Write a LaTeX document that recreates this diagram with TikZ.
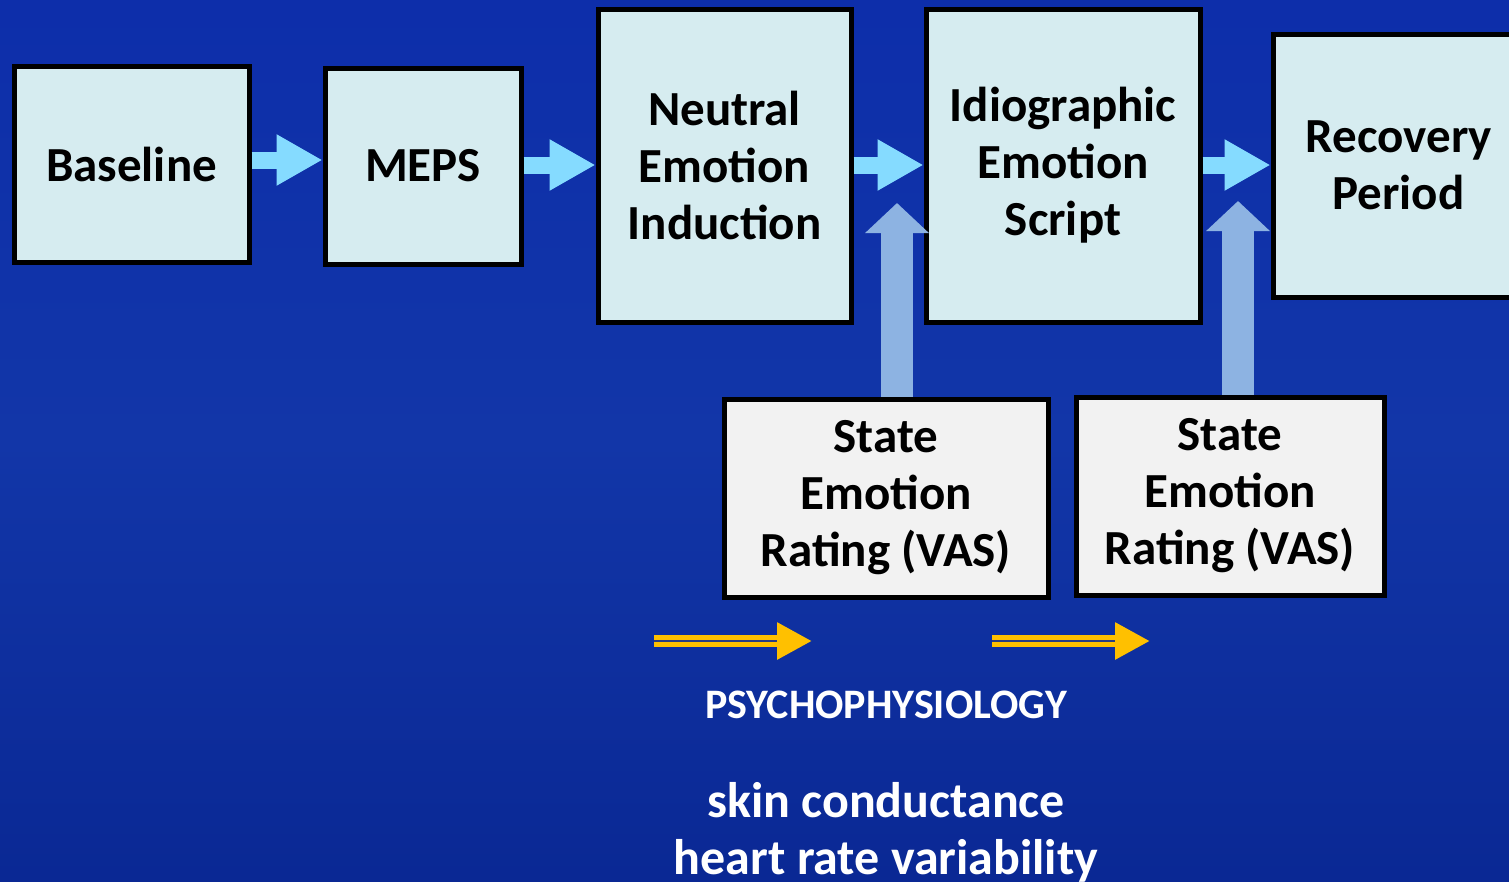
\documentclass[tikz,border=0pt]{standalone}
\usepackage{fontspec}
\setmainfont{Carlito}
\usetikzlibrary{arrows.meta,calc}
\definecolor{bgtop}{RGB}{13,46,170}
\definecolor{bgmid}{RGB}{18,54,168}
\definecolor{bgbot}{RGB}{10,40,148}
\definecolor{boxfill}{RGB}{214,236,240}
\definecolor{grayfill}{RGB}{242,242,242}
\definecolor{cyanarrow}{RGB}{133,219,255}
\definecolor{bluearrow}{RGB}{141,179,226}
\definecolor{gold}{RGB}{255,192,0}
\definecolor{darkline}{RGB}{40,60,130}
\tikzset{
  stagebox/.style={draw=black, line width=5pt, fill=boxfill, align=center,
    inner sep=0pt, font=\fontsize{49}{57}\selectfont\bfseries, text=black},
  ratebox/.style={stagebox, fill=grayfill},
  flowarrow/.style={draw=cyanarrow, line width=17pt, line cap=butt,
    -{Triangle[length=46pt,width=48pt]}},
  uparrow/.style={draw=bluearrow, line width=32pt, line cap=butt,
    -{Triangle[length=30pt,width=62pt]}},
  goldarrow/.style={draw=gold, line width=12pt, line cap=butt,
    -{Triangle[length=35pt,width=35pt]}},
  whitetext/.style={text=white, font=\bfseries, align=center, inner sep=0pt}
}
\begin{document}
\begin{tikzpicture}[x=1pt,y=-1pt]
\useasboundingbox (0,0) rectangle (1509,881);
\clip (0,0) rectangle (1509,881);
\shade[top color=bgtop, bottom color=bgbot, middle color=bgmid] (0,0) rectangle (1509,881);
% stage boxes
\node[stagebox, minimum width=235pt, minimum height=196pt] (base) at (131.5,164) {Baseline};
\node[stagebox, minimum width=196pt, minimum height=196pt] (meps) at (423,166) {MEPS};
\node[stagebox, minimum width=253pt, minimum height=313pt] (neut) at (724.5,165.5) {Neutral\\Emotion\\Induction};
\node[stagebox, minimum width=274pt, minimum height=313pt] (idio) at (1063,165.5) {Idiographic\\Emotion\\Script};
\node[stagebox, minimum width=262pt, minimum height=263pt, text width=250pt] (reco) at (1404,165.5) {\hspace*{-10pt}Recovery\hspace*{1pt}\\\hspace*{-10pt}Period\hspace*{1pt}};
% rating boxes
\node[ratebox, minimum width=324pt, minimum height=198pt] (rate1) at (886,498) {State\\Emotion\\Rating (VAS)};
\node[ratebox, minimum width=308pt, minimum height=198pt] (rate2) at (1230,496) {State\\Emotion\\Rating (VAS)};
% horizontal flow arrows
\coordinate (a1) at (base.east |- 0,160);
\coordinate (a2) at (meps.east |- 0,165);
\coordinate (a3) at (neut.east |- 0,165);
\coordinate (a4) at (idio.east |- 0,165);
\draw[flowarrow] (a1) -- (a1 -| meps.west);
\draw[flowarrow] (a2) -- (a2 -| neut.west);
\draw[flowarrow] (a3) -- (a3 -| idio.west);
\draw[flowarrow] (a4) -- (a4 -| reco.west);
% vertical arrows
\coordinate (up1) at (897,203);
\coordinate (up2) at (1238,201);
\draw[uparrow] (up1 |- rate1.north) -- (up1);
\draw[uparrow] (up2 |- rate2.north) -- (up2);
% gold arrows
\coordinate (g1s) at (654,641);
\coordinate (g1e) at (812,641);
\coordinate (g2s) at (992,641);
\coordinate (g2e) at (1150,641);
\draw[goldarrow] (g1s) -- (g1e);
\draw[goldarrow] (g2s) -- (g2e);
\draw[darkline, line width=1.6pt] (g1s) -- ++(123,0);
\draw[darkline, line width=1.6pt] (g2s) -- ++(123,0);
% texts
\node[whitetext, font=\fontsize{42}{46}\selectfont\bfseries] (psy) at (886,705) {PSYCHOPHYSIOLOGY};
\node[whitetext, font=\fontsize{50}{57}\selectfont\bfseries, anchor=base] (skin) at (886,817) {skin conductance};
\node[whitetext, font=\fontsize{50}{57}\selectfont\bfseries, anchor=base] (heart) at (886,874) {heart rate variability};
\end{tikzpicture}
\end{document}
